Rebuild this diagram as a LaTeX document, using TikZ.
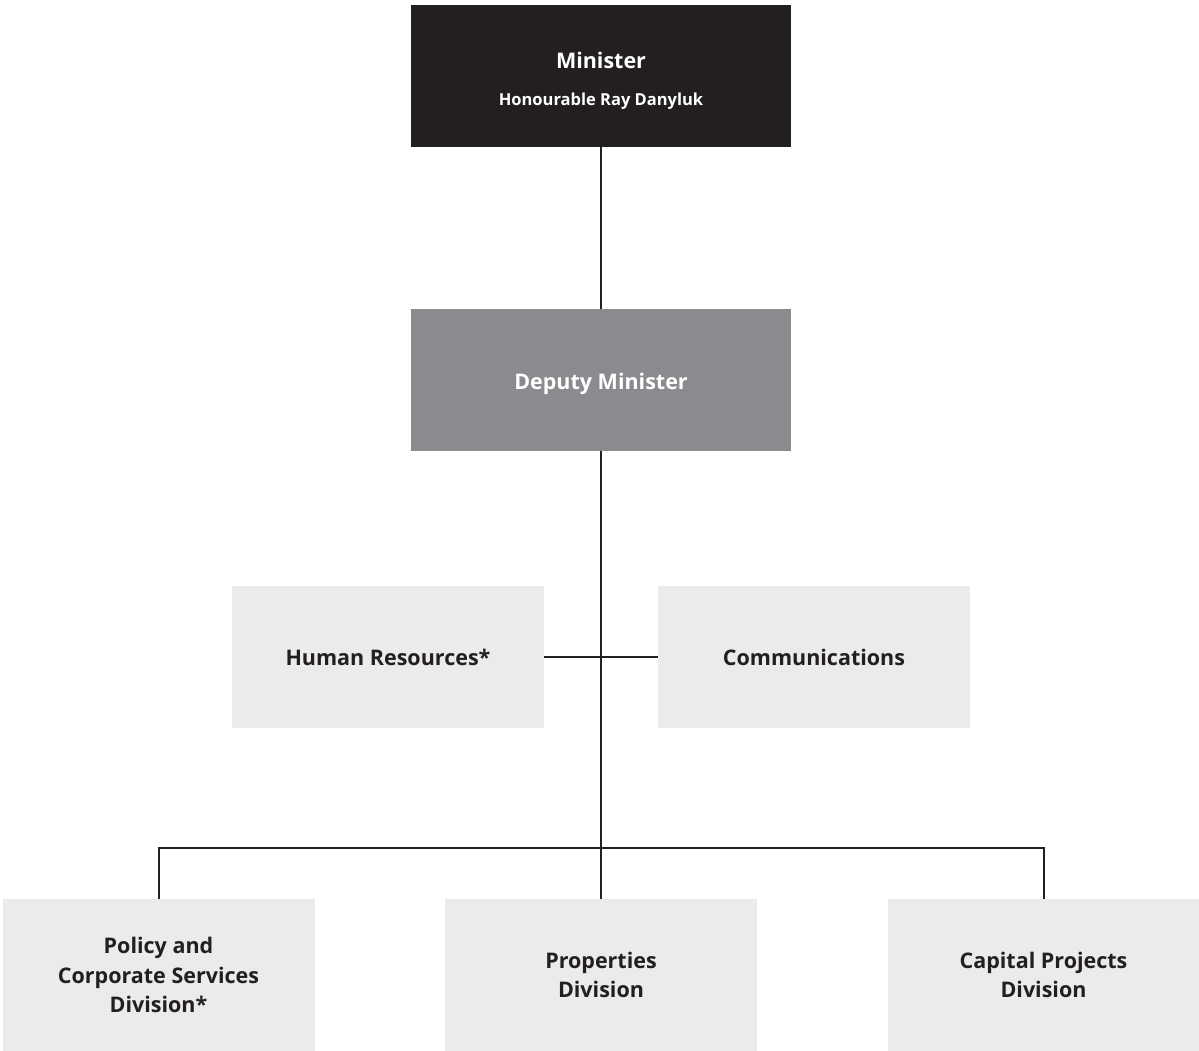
\documentclass[tikz,border=0pt]{standalone}
\usepackage{fontspec}
\setmainfont{Open Sans}
\usetikzlibrary{positioning}

\definecolor{inkdark}{HTML}{231F20}
\definecolor{boxgrey}{HTML}{8A8B8E}
\definecolor{boxlight}{HTML}{EBEBEC}

\begin{document}
\begin{tikzpicture}[
  x=1pt, y=-1pt,
  unit/.style={minimum width=312pt, minimum height=142pt, inner sep=0pt, align=center,
    font=\bfseries\fontsize{21.5}{29.5}\selectfont},
  topunit/.style={unit, minimum width=380pt, text=white},
  staffunit/.style={unit, fill=boxlight, text=inkdark},
  divunit/.style={unit, fill=boxlight, text=inkdark, minimum height=152pt},
  link/.style={draw=inkdark, line width=2pt}
]
\useasboundingbox (0,0) rectangle (1199,1051);

\node[topunit, fill=inkdark] (minister) at (601,76)
  {\rule{0pt}{26pt}Minister\\[7pt]{\fontsize{16.5}{20}\selectfont Honourable Ray Danyluk}};
\node[topunit, fill=boxgrey] (deputy) at (601,380) {\rule{0pt}{24pt}Deputy Minister};

\node[staffunit] (hr) at (388,657) {Human Resources*};
\node[staffunit] (comm) at (814,657) {Communications};

\node[divunit] (policy) at (158.5,975) {Policy and\\Corporate Services\\Division*};
\node[divunit] (prop) at (601,975) {Properties\\Division};
\node[divunit] (capital) at (1043.5,975) {Capital Projects\\Division};

\coordinate (bus) at (601,848);

\draw[link] (minister) -- (deputy);
\draw[link] (deputy) -- (prop);
\draw[link] (hr) -- (comm);
\draw[link] (policy.north) |- (bus) -| (capital.north);
\end{tikzpicture}
\end{document}
